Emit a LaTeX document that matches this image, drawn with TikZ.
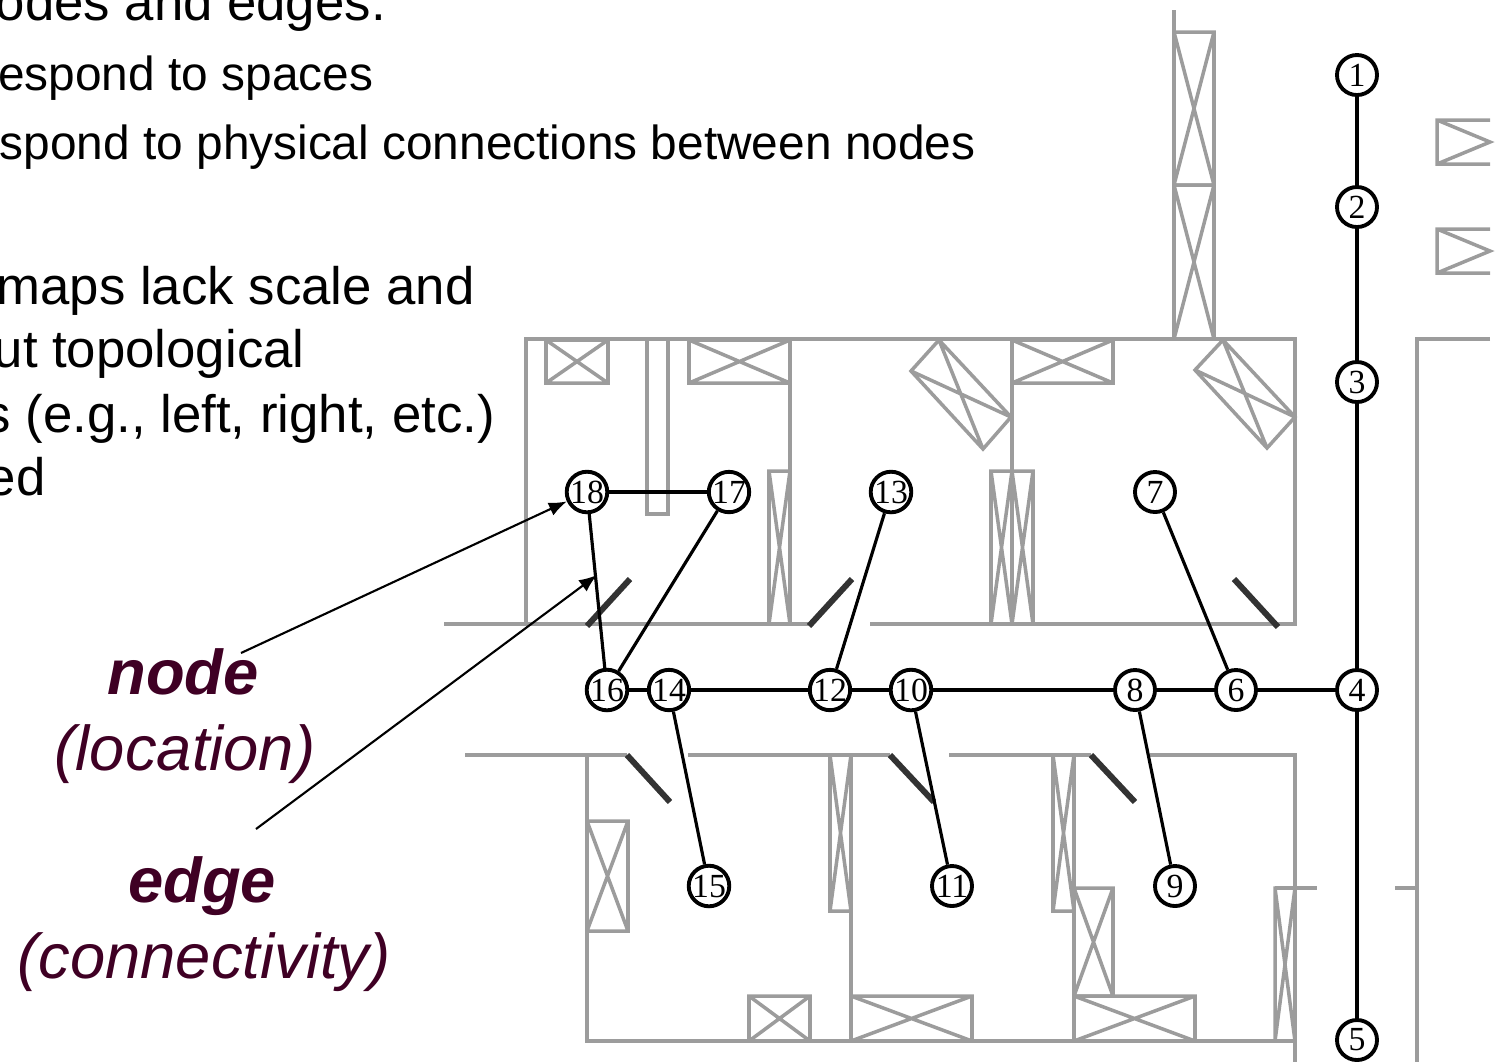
\documentclass[tikz,border=0pt]{standalone}
\usepackage{fontspec}
\usepackage{xcolor}
\usepackage{tikz}
\usetikzlibrary{arrows.meta}
\setmainfont{Liberation Sans}
\newfontfamily\numfont{Liberation Serif}
\definecolor{wallgray}{HTML}{9C9C9C}
\definecolor{doorgray}{HTML}{333333}
\definecolor{labelpurple}{HTML}{3F0024}
\tikzset{
  wall/.style={draw=wallgray,line width=1pt},
  door/.style={draw=doorgray,line width=1.7pt},
  place/.style={circle,draw,fill=white,line width=1.1pt,minimum size=0.4cm,inner sep=0pt,font=\numfont\fontsize{9.6}{10}\selectfont},
  link/.style={line width=0.9pt},
  trunk/.style={line width=1.2pt},
  pointer/.style={-{Latex[length=1.8mm,width=1.4mm]},line width=0.6pt},
  slide/.style={anchor=base west,inner sep=0pt,font=\fontsize{13.6}{16}\selectfont},
  bigslide/.style={anchor=base west,inner sep=0pt,font=\fontsize{15}{18}\selectfont},
  caption/.style={anchor=base,inner sep=0pt,text=labelpurple,font=\fontsize{18}{22}\selectfont}
}

\begin{document}
\begin{tikzpicture}[x=0.01cm,y=-0.01cm]
    \useasboundingbox (0,0) rectangle (1499,1062);
    % text
    \node[bigslide] (t1) at (-5,20) {odes and edges.};
    \node[slide] (t2) at (-2.5,90) {espond to spaces};
    \node[slide] (t3) at (-1,159) {spond to physical connections between nodes};
    \node[bigslide] (t4) at (-4,304) {maps lack scale and};
    \node[bigslide] (t5) at (-7,367) {ut topological};
    \node[bigslide] (t6) at (-16,432) {s (e.g., left, right, etc.)};
    \node[bigslide] (t7) at (-14,495) {ed};
    % upper rooms
    \draw[wall] (444,624) -- (808,624) (870,624) -- (1295,624) -- (1295,339) -- (526,339) -- (526,624);
    \draw[wall] (790,339) -- (790,624) (1012,339) -- (1012,624);
    \draw[wall] (647,339) rectangle (668,514);
    \draw[wall] (546,340) rectangle (608,383) (546,340) -- (608,383) (546,383) -- (608,340);
    \draw[wall] (689,340) rectangle (790,383) (689,340) -- (790,383) (689,383) -- (790,340);
    \draw[wall] (1012,340) rectangle (1113,383) (1012,340) -- (1113,383) (1012,383) -- (1113,340);
    \draw[wall] (939,340) -- (911,371) -- (983,449) -- (1011,417) -- cycle (939,340) -- (983,449) (911,371) -- (1011,417);
    \draw[wall] (1223,340) -- (1195,370) -- (1267,448) -- (1295,417) -- cycle (1223,340) -- (1267,448) (1195,370) -- (1295,417);
    \draw[wall] (769,471) rectangle (790,624) (769,471) -- (790,624) (769,624) -- (790,471);
    \draw[wall] (991,471) rectangle (1012,624) (991,471) -- (1012,624) (991,624) -- (1012,471);
    \draw[wall] (1012,471) rectangle (1033,624) (1012,471) -- (1033,624) (1012,624) -- (1033,471);
    % tower
    \draw[wall] (1174,10) -- (1174,339);
    \draw[wall] (1174,32) rectangle (1214,185) (1174,32) -- (1214,185) (1174,185) -- (1214,32);
    \draw[wall] (1174,185) rectangle (1214,339) (1174,185) -- (1214,339) (1174,339) -- (1214,185);
    % lower rooms
    \draw[wall] (465,755) -- (627,755) (688,755) -- (890,755) (949,755) -- (1091,755) (1150,755) -- (1295,755) -- (1295,1062);
    \draw[wall] (587,755) -- (587,1041) -- (1295,1041);
    \draw[wall] (851,755) -- (851,1041) (1074,755) -- (1074,1041);
    \draw[wall] (1275,888) -- (1317,888);
    \draw[wall] (587,821) rectangle (628,931) (587,821) -- (628,931) (587,931) -- (628,821);
    \draw[wall] (830,755) rectangle (851,911) (830,755) -- (851,911) (830,911) -- (851,755);
    \draw[wall] (1053,755) rectangle (1074,911) (1053,755) -- (1074,911) (1053,911) -- (1074,755);
    \draw[wall] (1074,888) rectangle (1113,996) (1074,888) -- (1113,996) (1074,996) -- (1113,888);
    \draw[wall] (1275,888) rectangle (1295,1041) (1275,888) -- (1295,1041) (1275,1041) -- (1295,888);
    \draw[wall] (749,996) rectangle (810,1041) (749,996) -- (810,1041) (749,1041) -- (810,996);
    \draw[wall] (851,996) rectangle (972,1041) (851,996) -- (972,1041) (851,1041) -- (972,996);
    \draw[wall] (1074,996) rectangle (1195,1041) (1074,996) -- (1195,1041) (1074,1041) -- (1195,996);
    % right side
    \draw[wall] (1490,339) -- (1417,339) -- (1417,1062) (1395,888) -- (1417,888);
    \draw[wall] (1490,120) -- (1437,120) -- (1437,164) -- (1490,164) (1437,120) -- (1490,142) -- (1437,164);
    \draw[wall] (1490,229) -- (1437,229) -- (1437,273) -- (1490,273) (1437,229) -- (1490,251) -- (1437,273);
    % doors
    \draw[door] (587,626) -- (630,579);
    \draw[door] (809,626) -- (852,579);
    \draw[door] (1234,579) -- (1278,627);
    \draw[door] (627,755) -- (670,802);
    \draw[door] (890,755) -- (934,802);
    \draw[door] (1091,755) -- (1135,802);
    % places
    \node[place] (n1) at (1357,75) {1};
    \node[place] (n2) at (1357,207) {2};
    \node[place] (n3) at (1357,382) {3};
    \node[place] (n4) at (1357,690) {4};
    \node[place] (n5) at (1357,1040) {5};
    \node[place] (n6) at (1236,690) {6};
    \node[place] (n7) at (1155,492) {7};
    \node[place] (n8) at (1135,690) {8};
    \node[place] (n9) at (1175,886) {9};
    \node[place] (n10) at (911,690) {10};
    \node[place] (n11) at (952,886) {11};
    \node[place] (n12) at (830,690) {12};
    \node[place] (n13) at (891,492) {13};
    \node[place] (n14) at (669,690) {14};
    \node[place] (n15) at (709,886) {15};
    \node[place] (n16) at (607,690) {16};
    \node[place] (n17) at (729,492) {17};
    \node[place] (n18) at (587,492) {18};
    % edges
    \draw[trunk] (n1) -- (n2);
    \draw[trunk] (n2) -- (n3);
    \draw[trunk] (n3) -- (n4);
    \draw[trunk] (n4) -- (n5);
    \draw[trunk] (n4) -- (n6);
    \draw[trunk] (n6) -- (n8);
    \draw[trunk] (n8) -- (n10);
    \draw[trunk] (n10) -- (n12);
    \draw[trunk] (n12) -- (n14);
    \draw[trunk] (n14) -- (n16);
    \draw[link] (n6) -- (n7);
    \draw[link] (n8) -- (n9);
    \draw[link] (n10) -- (n11);
    \draw[link] (n12) -- (n13);
    \draw[link] (n14) -- (n15);
    \draw[link] (n16) -- (n17);
    \draw[link] (n16) -- (n18);
    \draw[link] (n17) -- (n18);
    % labels
    \node[caption] (nodename) at (183,694) {\textbf{\textit{node}}};
    \node[caption] (nodesub) at (185,770) {\textit{(location)}};
    \node[caption] (edgename) at (202,902) {\textbf{\textit{edge}}};
    \node[caption] (edgesub) at (204,978) {\textit{(connectivity)}};
    \coordinate (nodefrom) at (241,653);
    \coordinate (edgefrom) at (256,829);
    \coordinate (edgeto) at (597,575);
    \draw[pointer] (nodefrom) -- (n18);
    \draw[pointer] (edgefrom) -- (edgeto);
\end{tikzpicture}
\end{document}
